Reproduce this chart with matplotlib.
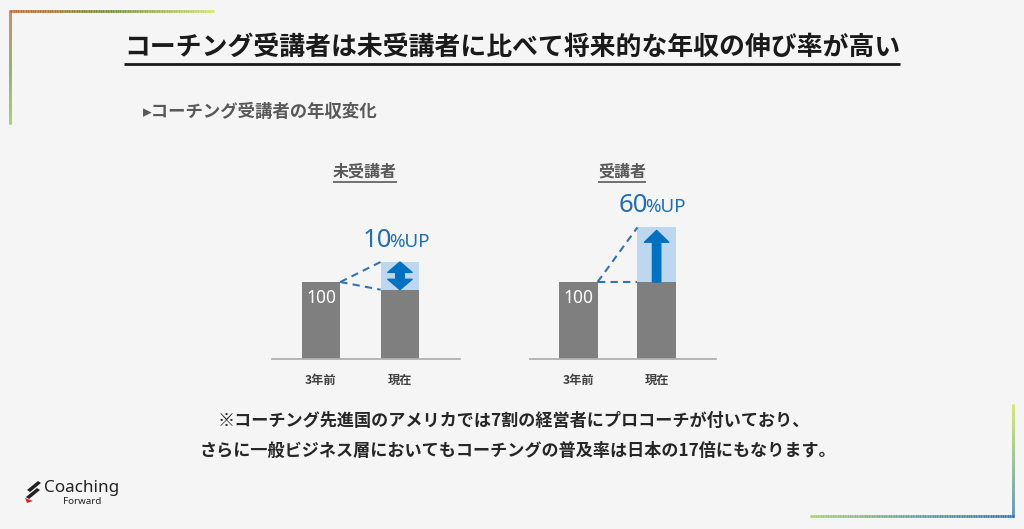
import numpy as np
import matplotlib
matplotlib.use("Agg")
import matplotlib.pyplot as plt
from matplotlib.collections import LineCollection
from matplotlib.colors import LinearSegmentedColormap
from matplotlib.patches import Polygon

plt.rcParams['font.family'] = ['Noto Sans CJK JP', 'DejaVu Sans']

# ---- data ----
title = "コーチング受講者は未受講者に比べて将来的な年収の伸び率が高い"
subtitle = "▸コーチング受講者の年収変化"
groups = ["未受講者", "受講者"]
periods = ["3年前", "現在"]
before = [100, 100]          # 3年前 (gray)
now_base = [90, 100]         # 現在, gray part
now_top = [126, 171]         # 現在, top of light-blue box
up_pct = ["10", "60"]
notes = ["※コーチング先進国のアメリカでは7割の経営者にプロコーチが付いており、",
         "さらに一般ビジネス層においてもコーチングの普及率は日本の17倍にもなります。"]

W, H = 1024, 529
BG = "#f5f5f5"
GRAY = "#7f7f7f"
LIGHT = "#bdd7ee"
BLUE = "#0070c0"
DASH = "#2e75b6"
PT = 0.72  # points per pixel at dpi 100

fig = plt.figure(figsize=(W / 100, H / 100), dpi=100, facecolor=BG)
bg = fig.add_axes([0, 0, 1, 1])
bg.set_xlim(0, W); bg.set_ylim(H, 0); bg.axis("off")
bg.set_facecolor(BG)


def grad_line(x0, y0, x1, y1, colors, lw=2.0, n=120):
    xs = np.linspace(x0, x1, n + 1); ys = np.linspace(y0, y1, n + 1)
    pts = np.column_stack([xs, ys]).reshape(-1, 1, 2)
    segs = np.concatenate([pts[:-1], pts[1:]], axis=1)
    cmap = LinearSegmentedColormap.from_list("g", colors)
    lc = LineCollection(segs, colors=cmap(np.linspace(0, 1, n)), linewidths=lw,
                        capstyle="butt")
    bg.add_collection(lc)


# corner frames
grad_line(10, 11, 214, 11, ["#c8642a", "#6f8f3a", "#d2e26a"])
grad_line(10, 10, 10, 124, ["#c8642a", "#6a9a40", "#8cc050"])
grad_line(1013, 404, 1013, 517, ["#d0e040", "#7ab870", "#2e75b6"])
grad_line(810, 516, 1014, 516, ["#a8d060", "#5aa8a0", "#2e75b6"])

# texts
t_title = bg.text(512, 47, title, ha="center", va="center", fontsize=18.6,
                  fontweight="bold", color="#1a1a1a")
bg.text(143, 112, subtitle, ha="left", va="center", fontsize=12.5,
        fontweight="bold", color="#595959")
for i, (line, cx) in enumerate(zip(notes, [514, 518])):
    bg.text(cx, 421 + 30 * i, line, ha="center", va="center", fontsize=12.3,
            fontweight="bold", color="#262626")

# logo
bg.add_patch(Polygon([[27, 490], [38, 481], [41, 483], [30, 492]], closed=True,
                     color="#222222", lw=0))
bg.add_patch(Polygon([[26, 497], [37, 488], [40, 490], [29, 499]], closed=True,
                     color="#222222", lw=0))
bg.add_patch(Polygon([[25, 498], [33, 501], [27, 503]], closed=True,
                     color="#d9262c", lw=0))
bg.text(44, 488, "Coaching", ha="left", va="center", fontsize=12.3,
        fontweight="bold", color="#222222", family="Noto Sans")
bg.text(82, 501, "Forward", ha="center", va="center", fontsize=7,
        fontweight="bold", color="#222222", family="Noto Sans")

# charts
axes_px = [(272, 460), (530, 716)]
top_px, base_px = 159, 359
bw = 0.49
heads = []
for g, (l, r) in enumerate(axes_px):
    ax = fig.add_axes([l / W, 1 - base_px / H, (r - l) / W, (base_px - top_px) / H])
    ax.set_facecolor("none")
    ax.set_xlim(-0.62, 1.76)
    ax.set_ylim(0, 200 / 0.77)
    ax.bar([0, 1], [before[g], now_base[g]], width=bw, color=GRAY, zorder=2)
    ax.bar(1, now_top[g] - now_base[g], bottom=now_base[g], width=bw,
           color=LIGHT, zorder=1)
    for s in ["top", "right", "left"]:
        ax.spines[s].set_visible(False)
    ax.spines["bottom"].set_color("#b0b0b0")
    ax.spines["bottom"].set_linewidth(1.3)
    ax.set_yticks([])
    ax.set_xticks([0, 1], periods)
    ax.tick_params(axis="x", length=0, pad=11, labelsize=8.8, labelcolor="#404040")
    for lab in ax.get_xticklabels():
        lab.set_fontweight("bold")

    # dashed guide lines
    ax.plot([bw / 2, 1 - bw / 2], [before[g], now_top[g]], ls=(0, (3.5, 2.5)),
            color=DASH, lw=1.5, zorder=3)
    ax.plot([bw / 2, 1 - bw / 2], [before[g], now_base[g]], ls=(0, (3.5, 2.5)),
            color=DASH, lw=1.5, zorder=3)

    # value label in 3年前 bar
    ax.annotate(str(before[g]), (0, before[g]), xytext=(0, -16 * PT),
                textcoords="offset points", ha="center", va="center",
                fontsize=12.5, color="white", family="Noto Sans", zorder=4)

    # arrows
    if now_base[g] < before[g]:
        mid = (now_base[g] + now_top[g]) / 2
        for tip, start in ((now_top[g], mid - 2), (now_base[g], mid + 2)):
            ax.annotate("", xy=(1, tip), xytext=(1, start),
                        arrowprops=dict(arrowstyle="simple,head_length=0.75,head_width=1.75,tail_width=0.6",
                                        color=BLUE, shrinkA=0, shrinkB=0, mutation_scale=10),
                        zorder=4)
    else:
        ax.annotate("", xy=(1, now_top[g] - 4), xytext=(1, now_base[g]),
                    arrowprops=dict(arrowstyle="simple,head_length=0.85,head_width=1.75,tail_width=0.6",
                                    color=BLUE, shrinkA=0, shrinkB=0, mutation_scale=10),
                    zorder=4)

    # percentage label
    ax.annotate(up_pct[g], (1, now_top[g]), xytext=(-8 * PT, 15 * PT),
                textcoords="offset points", ha="right", va="baseline",
                fontsize=18.5, color="#1f6fb4", family="Noto Sans", fontweight="semibold")
    ax.annotate("%UP", (1, now_top[g]), xytext=(-11 * PT, 15 * PT),
                textcoords="offset points", ha="left", va="baseline",
                fontsize=13.5, color="#1f6fb4", family="Noto Sans", fontweight="semibold")

    heads.append(bg.text((l + r) / 2 - 1, 172, groups[g], ha="center", va="center",
                         fontsize=11.5, fontweight="bold", color="#595959"))

# underlines from rendered text extents
fig.canvas.draw()
rend = fig.canvas.get_renderer()
for t, gap, lw, col in [(t_title, 3, 2.0, "#1a1a1a")] + [(h, 2, 1.2, "#595959") for h in heads]:
    bb = t.get_window_extent(rend)
    y = H - bb.y0 + gap
    bg.plot([bb.x0, bb.x1], [y, y], color=col, lw=lw, solid_capstyle="butt")

fig.savefig("out.png", dpi=100, facecolor=BG)
